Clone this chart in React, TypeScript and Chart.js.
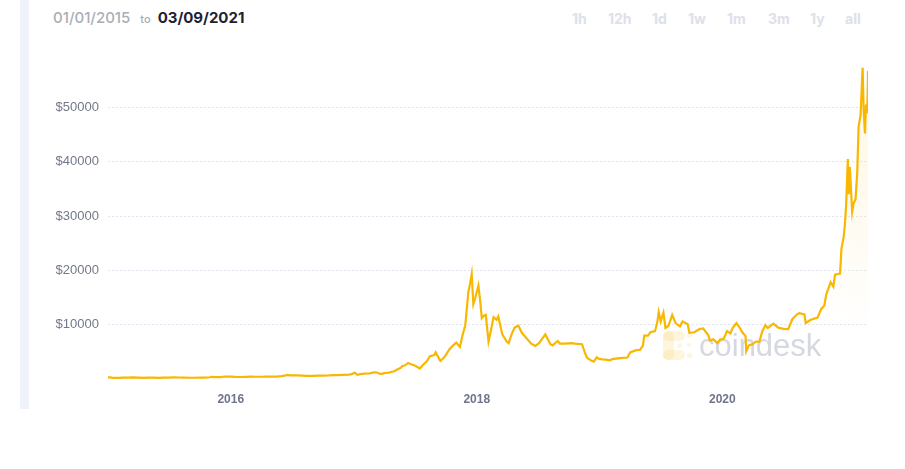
import React, { useEffect, useRef } from "react";
import { Chart, registerables } from "chart.js";

Chart.register(...registerables);

// Bitcoin closing price (USD), sampled through the period
const priceDates: string[] = [
  "2015-01-01", "2015-01-08", "2015-01-15", "2015-01-22", "2015-02-01", "2015-02-15", "2015-03-01", "2015-03-15",
  "2015-04-01", "2015-04-15", "2015-05-01", "2015-05-15", "2015-06-01", "2015-06-15", "2015-07-01", "2015-07-15",
  "2015-08-01", "2015-08-15", "2015-09-01", "2015-09-15", "2015-10-01", "2015-10-15", "2015-11-01", "2015-11-04",
  "2015-11-15", "2015-12-01", "2015-12-15",
  "2016-01-01", "2016-01-15", "2016-02-01", "2016-02-15", "2016-03-01", "2016-03-15", "2016-04-01", "2016-04-15",
  "2016-05-01", "2016-05-15", "2016-06-01", "2016-06-12", "2016-06-18", "2016-06-25", "2016-07-01", "2016-07-15",
  "2016-08-01", "2016-08-15", "2016-09-01", "2016-09-15", "2016-10-01", "2016-10-15", "2016-11-01", "2016-11-15",
  "2016-12-01", "2016-12-15", "2016-12-25",
  "2017-01-04", "2017-01-11", "2017-01-20", "2017-02-01", "2017-02-15", "2017-03-01", "2017-03-10", "2017-03-18",
  "2017-03-25", "2017-04-01", "2017-04-15", "2017-05-01", "2017-05-10", "2017-05-20", "2017-05-25", "2017-06-01",
  "2017-06-11", "2017-06-20", "2017-07-01", "2017-07-16", "2017-07-25", "2017-08-05", "2017-08-15", "2017-08-28",
  "2017-09-01", "2017-09-15", "2017-09-25", "2017-10-01", "2017-10-12", "2017-10-20", "2017-11-01", "2017-11-12",
  "2017-11-20", "2017-11-28", "2017-12-07", "2017-12-12", "2017-12-17", "2017-12-22", "2017-12-28",
  "2018-01-06", "2018-01-12", "2018-01-16", "2018-01-21", "2018-01-28", "2018-02-05", "2018-02-12", "2018-02-20",
  "2018-03-01", "2018-03-06", "2018-03-18", "2018-03-31", "2018-04-06", "2018-04-15", "2018-04-24", "2018-05-05",
  "2018-05-15", "2018-05-29", "2018-06-12", "2018-06-24", "2018-07-05", "2018-07-24", "2018-08-08", "2018-08-14",
  "2018-08-30", "2018-09-05", "2018-09-20", "2018-10-10", "2018-10-20", "2018-11-10", "2018-11-20", "2018-11-25",
  "2018-12-07", "2018-12-15", "2018-12-24", "2018-12-31",
  "2019-01-10", "2019-01-20", "2019-02-01", "2019-02-08", "2019-02-24", "2019-03-10", "2019-03-25", "2019-04-02",
  "2019-04-20", "2019-05-01", "2019-05-10", "2019-05-14", "2019-05-25", "2019-06-01", "2019-06-15", "2019-06-22",
  "2019-06-26", "2019-07-02", "2019-07-10", "2019-07-16", "2019-07-25", "2019-08-05", "2019-08-15", "2019-08-28",
  "2019-09-05", "2019-09-20", "2019-09-25", "2019-10-10", "2019-10-25", "2019-11-05", "2019-11-20", "2019-11-25",
  "2019-12-05", "2019-12-17", "2019-12-25",
  "2020-01-05", "2020-01-15", "2020-01-25", "2020-02-01", "2020-02-12", "2020-02-20", "2020-03-01", "2020-03-10",
  "2020-03-12", "2020-03-20", "2020-03-31", "2020-04-10", "2020-04-20", "2020-04-29", "2020-05-08", "2020-05-15",
  "2020-06-01", "2020-06-15", "2020-07-01", "2020-07-15", "2020-07-27", "2020-08-10", "2020-08-17", "2020-09-01",
  "2020-09-05", "2020-09-20", "2020-10-10", "2020-10-21", "2020-10-30", "2020-11-05", "2020-11-18", "2020-11-26",
  "2020-12-01", "2020-12-16", "2020-12-20", "2020-12-27", "2020-12-31",
  "2021-01-03", "2021-01-08", "2021-01-11", "2021-01-14", "2021-01-21", "2021-01-25", "2021-01-31", "2021-02-05",
  "2021-02-09", "2021-02-15", "2021-02-21", "2021-02-24", "2021-02-28", "2021-03-03", "2021-03-06", "2021-03-08",
  "2021-03-09",
];

const priceValues: number[] = [
  315, 290, 210, 230, 225, 235, 255, 285,
  245, 220, 235, 237, 225, 235, 258, 285,
  280, 260, 228, 230, 237, 255, 325, 400,
  330, 360, 455,
  432, 375, 372, 400, 430, 415, 417, 430,
  450, 455, 535, 660, 760, 665, 675, 665,
  605, 570, 575, 610, 615, 640, 730, 710,
  755, 780, 900,
  1150, 780, 900, 985, 1010, 1220, 1200, 970,
  960, 1090, 1180, 1420, 1750, 2050, 2400, 2480,
  2950, 2700, 2480, 1930, 2590, 3200, 4200, 4400,
  4900, 3300, 3900, 4400, 5500, 6000, 6700, 5900,
  8100, 9900, 16000, 17500, 19300, 13800, 15000,
  17200, 13900, 11200, 11600, 11800, 6900, 8900, 11400,
  10900, 11500, 8200, 6900, 6600, 8300, 9500, 9800,
  8500, 7500, 6500, 6100, 6600, 8200, 6400, 6200,
  7000, 6500, 6500, 6600, 6500, 6400, 4600, 3900,
  3400, 3200, 4000, 3700,
  3600, 3550, 3450, 3650, 3800, 3900, 3950, 4900,
  5300, 5350, 6150, 8000, 8000, 8600, 8800, 10600,
  12300, 10600, 12200, 9400, 9800, 11800, 10300, 9700,
  10600, 10100, 8500, 8600, 9200, 9300, 8100, 7100,
  7300, 6600, 7250,
  7400, 8800, 8400, 9400, 10300, 9600, 8550, 7900,
  5100, 6200, 6400, 6900, 6850, 8800, 9900, 9400,
  10200, 9450, 9230, 9180, 11000, 11900, 12100, 11900,
  10300, 10900, 11300, 12900, 13500, 15600, 17800, 17000,
  19200, 19400, 23900, 26300, 29000,
  32000, 40500, 34000, 39000, 30800, 32300, 33100, 38000,
  46400, 48600, 57300, 49700, 45200, 50500, 48900, 52400,
  56700,
];

const axisStart = "2015-01-01";
const axisEnd = "2021-03-09";
const yearTickDates: string[] = ["2016-01-01", "2018-01-01", "2020-01-01"];
const priceTicks: number[] = [10000, 20000, 30000, 40000, 50000];
const priceMax = 60000;

const rangeFrom = "01/01/2015";
const rangeTo = "03/09/2021";
const rangeButtons: string[] = ["1h", "12h", "1d", "1w", "1m", "3m", "1y", "all"];
const rangeButtonX: number[] = [572, 608, 652, 688, 727, 768, 810, 845];

const toTime = (d: string) => {
  const [y, m, day] = d.split("-").map(Number);
  return Date.UTC(y, m - 1, day);
};

const LINE_COLOR = "#f8b700";

// faint brand mark drawn behind the price line
const watermarkPlugin = {
  id: "watermark",
  beforeDatasetsDraw(chart: any) {
    const { ctx, chartArea } = chart;
    if (!chartArea) return;
    const x0 = chartArea.right - 205;
    const y0 = chartArea.bottom - 48;
    ctx.save();
    ctx.fillStyle = "rgba(252, 214, 120, 0.25)";
    const blob = (x: number, y: number, w: number, h: number, r: number) => {
      ctx.beginPath();
      ctx.roundRect(x, y, w, h, r);
      ctx.fill();
    };
    blob(x0, y0, 11, 29, 5);
    blob(x0, y0, 22, 10, 5);
    blob(x0, y0 + 19, 22, 10, 5);
    blob(x0 + 24, y0 + 2, 5, 5, 2.5);
    blob(x0 + 24, y0 + 22, 5, 5, 2.5);
    blob(x0 + 14, y0 + 12, 5, 5, 2.5);
    blob(x0 + 24, y0 + 12, 4, 4, 2);
    ctx.fillStyle = "#d5d8df";
    ctx.font = "31px 'Liberation Sans', Arial, sans-serif";
    ctx.textBaseline = "alphabetic";
    ctx.textAlign = "left";
    ctx.fillText("coindesk", x0 + 36, y0 + 25);
    ctx.restore();
  },
};

function PriceChart() {
  const canvasRef = useRef<HTMLCanvasElement | null>(null);

  useEffect(() => {
    if (!canvasRef.current) return;
    const points = priceDates.map((d, i) => ({ x: toTime(d), y: priceValues[i] }));
    const chart = new Chart(canvasRef.current, {
      type: "line",
      data: {
        datasets: [
          {
            data: points,
            borderColor: LINE_COLOR,
            borderWidth: 2.2,
            pointRadius: 0,
            tension: 0,
            fill: "origin",
            backgroundColor: (context: any) => {
              const { ctx, chartArea } = context.chart;
              if (!chartArea) return "rgba(0,0,0,0)";
              const g = ctx.createLinearGradient(
                chartArea.right - 70,
                chartArea.bottom - 70,
                chartArea.right,
                chartArea.top + 110
              );
              g.addColorStop(0, "rgba(255, 225, 150, 0)");
              g.addColorStop(1, "rgba(255, 225, 150, 0.2)");
              return g;
            },
          },
        ],
      },
      options: {
        animation: false,
        responsive: false,
        maintainAspectRatio: false,
        layout: { padding: { top: 53, right: 37, left: 0, bottom: 0 } },
        plugins: { legend: { display: false }, tooltip: { enabled: false } },
        scales: {
          x: {
            type: "linear",
            min: toTime(axisStart),
            max: toTime(axisEnd),
            grid: { display: false },
            border: { display: false },
            afterFit: (scale: any) => {
              scale.height = 90;
            },
            afterBuildTicks: (scale: any) => {
              scale.ticks = yearTickDates.map((d) => ({ value: toTime(d) }));
            },
            ticks: {
              padding: 5,
              maxRotation: 0,
              autoSkip: false,
              color: "#70758a",
              font: { family: "'Liberation Sans', Arial, sans-serif", size: 12, weight: "bold" },
              callback: (v: any) => String(new Date(Number(v)).getUTCFullYear()),
            },
          },
          y: {
            min: 0,
            max: priceMax,
            border: { display: false, dash: [2, 2] },
            grid: {
              color: "rgba(210, 216, 238, 0.7)",
              lineWidth: 1,
              drawTicks: false,
            },
            afterFit: (scale: any) => {
              scale.width = 108;
            },
            afterBuildTicks: (scale: any) => {
              scale.ticks = priceTicks.map((v) => ({ value: v }));
            },
            ticks: {
              padding: 9,
              color: "#737888",
              font: { family: "'Liberation Sans', Arial, sans-serif", size: 13 },
              callback: (v: any) => "$" + v,
            },
          },
        },
      } as any,
      plugins: [watermarkPlugin],
    });
    return () => chart.destroy();
  }, []);

  return (
    <canvas
      ref={canvasRef}
      width={905}
      height={469}
      style={{ position: "absolute", left: 0, top: 0, width: 905, height: 469 }}
    />
  );
}

export default function App() {
  return (
    <div
      style={{
        position: "fixed",
        left: 0,
        top: 0,
        width: 905,
        height: 469,
        background: "#ffffff",
        overflow: "hidden",
        fontFamily: "Inter, 'Noto Sans', sans-serif",
      }}
    >
      <div
        style={{ position: "absolute", left: 20, top: 0, width: 9, height: 409, background: "#eff3f9" }}
      />
      <div
        style={{
          position: "absolute",
          left: 53,
          top: 7,
          whiteSpace: "nowrap",
          lineHeight: "20px",
        }}
      >
        <span style={{ color: "#a9adb8", fontSize: 15, fontWeight: 500 }}>{rangeFrom}</span>
        <span style={{ color: "#a9adb8", fontSize: 11, fontWeight: 500, margin: "0 7px 0 10px" }}>to</span>
        <span style={{ color: "#1d2233", fontSize: 15, fontWeight: 700 }}>{rangeTo}</span>
      </div>
      {rangeButtons.map((b, i) => (
        <div
          key={b}
          style={{
            position: "absolute",
            left: rangeButtonX[i],
            top: 9,
            lineHeight: "20px",
            fontSize: 14,
            fontWeight: 700,
            color: "#dde1ea",
          }}
        >
          {b}
        </div>
      ))}
      <PriceChart />
    </div>
  );
}
